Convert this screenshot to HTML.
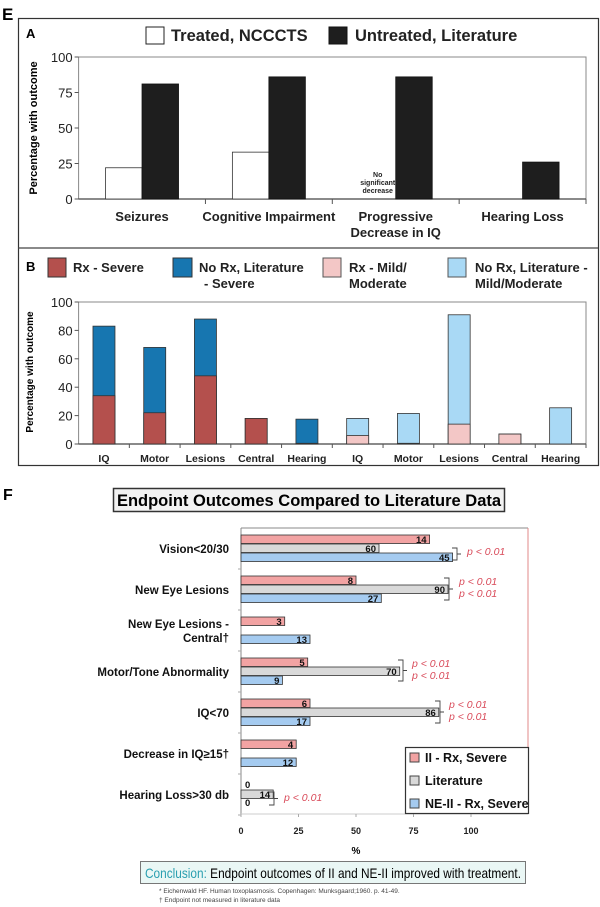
<!DOCTYPE html>
<html><head><meta charset="utf-8"><style>
html,body{margin:0;padding:0;background:#fff;}
svg{display:block;font-family:"Liberation Sans",Arial,sans-serif;}
</style></head><body>
<svg id="fig" width="600" height="907" viewBox="0 0 600 907" xmlns="http://www.w3.org/2000/svg">
<text x="2" y="20" font-size="17" font-weight="bold">E</text>
<rect x="18.5" y="18.5" width="580" height="447" fill="none" stroke="#333" stroke-width="1.2"/>
<line x1="18" y1="248" x2="598" y2="248" stroke="#444" stroke-width="1.2"/>
<text x="26" y="38" font-size="13" font-weight="bold">A</text>
<g>
<rect x="146" y="27" width="18" height="17" fill="#fff" stroke="#222"/>
<text x="171" y="41" font-size="16.5" font-weight="bold" fill="#222">Treated, NCCCTS</text>
<rect x="329" y="27" width="18" height="17" fill="#1e1e1e" stroke="#111"/>
<text x="355" y="41" font-size="16.5" font-weight="bold" fill="#222">Untreated, Literature</text>
</g>
<text transform="translate(37,128) rotate(-90)" text-anchor="middle" font-size="11" font-weight="bold">Percentage with outcome</text>
<g id="gA"></g>
<text x="26" y="271" font-size="13" font-weight="bold">B</text>
<g font-size="13" font-weight="bold" fill="#222">
<rect x="48" y="258" width="18" height="19" fill="#b4504d" stroke="#333"/>
<text x="73" y="272">Rx - Severe</text>
<rect x="173" y="258" width="19" height="19" fill="#1776b0" stroke="#333"/>
<text x="199" y="272">No Rx, Literature<tspan x="204" y="288">- Severe</tspan></text>
<rect x="323" y="258" width="18" height="19" fill="#f3c7c6" stroke="#555"/>
<text x="349" y="272">Rx - Mild/<tspan x="349" y="288">Moderate</tspan></text>
<rect x="448" y="258" width="18" height="19" fill="#a9d9f5" stroke="#555"/>
<text x="475" y="272">No Rx, Literature -<tspan x="475" y="288">Mild/Moderate</tspan></text>
</g>
<text transform="translate(33,372) rotate(-90)" text-anchor="middle" font-size="10" font-weight="bold">Percentage with outcome</text>
<g id="gB"></g>
<text x="3" y="500" font-size="16" font-weight="bold">F</text>
<rect x="113.5" y="488.5" width="391" height="23" fill="#f2f2f2" stroke="#333" stroke-width="1.5"/>
<text x="309" y="506" text-anchor="middle" font-size="16.5" font-weight="bold">Endpoint Outcomes Compared to Literature Data</text>
<g id="gF"></g>
<rect x="140.5" y="861.5" width="385" height="22" fill="#eaf7f5" stroke="#777"/>
<text x="145" y="878" font-size="14" textLength="376" lengthAdjust="spacingAndGlyphs"><tspan fill="#2b9fb0">Conclusion:</tspan> Endpoint outcomes of II and NE-II improved with treatment.</text>
<text x="159" y="893" font-size="6.5" fill="#444">* Eichenwald HF. Human toxoplasmosis. Copenhagen: Munksgaard;1960. p. 41-49.</text>
<text x="159" y="902" font-size="6.5" fill="#444">† Endpoint not measured in literature data</text>
</svg>
<script>
// ---- Panel A data ----
const catsA = ["Seizures", "Cognitive Impairment", "Progressive|Decrease in IQ", "Hearing Loss"];
const treatedA = [22, 33, null, null];
const untreatedA = [81, 86, 86, 26];
const ticksA = [0, 25, 50, 75, 100];
// ---- Panel B data ----
const catsB = ["IQ","Motor","Lesions","Central","Hearing","IQ","Motor","Lesions","Central","Hearing"];
const rxB = [34, 22, 48, 18, 0.5, 6, 0.5, 14, 7, 0];
const totalB = [83, 68, 88, 18, 17.5, 18, 21.5, 91, 7, 25.5];
const groupB = [1,1,1,1,1,0,0,0,0,0];
const ticksB = [0, 20, 40, 60, 80, 100];
// ---- Panel F data ----
const catsF = ["Vision<20/30","New Eye Lesions","New Eye Lesions -|Central†","Motor/Tone Abnormality","IQ<70","Decrease in IQ≥15†","Hearing Loss>30 db"];
const iiF = [82, 50, 19, 29, 30, 24, 0];
const litF = [60, 90, null, 69, 86, null, 14];
const neF = [92, 61, 30, 18, 30, 24, 0];
const iiLbl = ["14","8","3","5","6","4","0"];
const litLbl = ["60","90","","70","86","","14"];
const neLbl = ["45","27","13","9","17","12","0"];
const ticksF = [0, 25, 50, 75, 100];

const NS = "http://www.w3.org/2000/svg";
function mk(parent, tag, attrs, text){
  const e = document.createElementNS(NS, tag);
  for (const k in attrs) e.setAttribute(k, attrs[k]);
  if (text !== undefined) e.textContent = text;
  parent.appendChild(e);
  return e;
}

// Panel A
(function(){
  const g = document.getElementById("gA");
  const x0 = 78.6, x1 = 586, y0 = 199, y1 = 57;
  const yA = v => y0 - (v/100)*(y0-y1);
  const slot = (x1-x0)/catsA.length;
  const bw = 36.5;
  let e = mk(g,"rect",{x:x0,y:y1,width:x1-x0,height:y0-y1,fill:"none",stroke:"#888","stroke-width":1});
   
  ticksA.forEach(t=>{
    let l = mk(g,"line",{x1:x0-4,x2:x0,y1:yA(t),y2:yA(t),stroke:"#555"});
     
    let tx = mk(g,"text",{x:x0-6,y:yA(t)+5,"text-anchor":"end","font-size":13,fill:"#222"},String(t));
     
  });
  mk(g,"line",{x1:x0,x2:x1,y1:y0,y2:y0,stroke:"#444","stroke-width":1.2});
  catsA.forEach((c,i)=>{
    const cx = x0 + slot*(i+0.5);
    let tk = mk(g,"line",{x1:x0+slot*(i+1),x2:x0+slot*(i+1),y1:y0,y2:y0+5,stroke:"#555"});
     
    if (treatedA[i] !== null){
      let r = mk(g,"rect",{x:cx-bw,y:yA(treatedA[i]),width:bw,height:y0-yA(treatedA[i]),fill:"#fff",stroke:"#333","stroke-width":0.8});
       
    }
    let r2 = mk(g,"rect",{x:cx,y:yA(untreatedA[i]),width:bw,height:y0-yA(untreatedA[i]),fill:"#1e1e1e",stroke:"#111","stroke-width":0.8});
     
    const parts = c.split("|");
    parts.forEach((p,k)=>{
      let t = mk(g,"text",{x:cx,y:221+k*16,"text-anchor":"middle","font-size":13,"font-weight":"bold",fill:"#222"},p);
       
    });
  });
  const nsx = x0 + slot*2.5 - 18;
  ["No","significant","decrease"].forEach((w,k)=>{
    let t = mk(g,"text",{x:nsx,y:177+k*8,"text-anchor":"middle","font-size":7,"font-weight":"bold",fill:"#222"},w);
     
  });
})();

// Panel B
(function(){
  const g = document.getElementById("gB");
  const x0 = 78.6, x1 = 586, y0 = 444, y1 = 302;
  const yB = v => y0 - (v/100)*(y0-y1);
  const slot = (x1-x0)/catsB.length;
  const bw = 22;
  let e = mk(g,"rect",{x:x0,y:y1,width:x1-x0,height:y0-y1,fill:"none",stroke:"#888"});
   
  ticksB.forEach(t=>{
    mk(g,"line",{x1:x0-4,x2:x0,y1:yB(t),y2:yB(t),stroke:"#555"});
    let tx = mk(g,"text",{x:x0-6,y:yB(t)+5,"text-anchor":"end","font-size":13,fill:"#222"},String(t));
     
  });
  mk(g,"line",{x1:x0,x2:x1,y1:y0,y2:y0,stroke:"#444","stroke-width":1.2});
  catsB.forEach((c,i)=>{
    const cx = x0 + slot*(i+0.5);
    mk(g,"line",{x1:x0+slot*(i+1),x2:x0+slot*(i+1),y1:y0,y2:y0+4,stroke:"#555"});
    const sev = groupB[i]===1;
    const top = mk(g,"rect",{x:cx-bw/2,y:yB(totalB[i]),width:bw,height:y0-yB(totalB[i]),fill:sev?"#1776b0":"#a9d9f5",stroke:"#333","stroke-width":0.8});
    
    
    if (rxB[i] > 0){
      const low = mk(g,"rect",{x:cx-bw/2,y:yB(rxB[i]),width:bw,height:y0-yB(rxB[i]),fill:sev?"#b4504d":"#f3c7c6",stroke:"#333","stroke-width":0.8});
      
      
    }
    let t = mk(g,"text",{x:cx,y:462,"text-anchor":"middle","font-size":10.5,"font-weight":"bold",fill:"#222"},c);
     
  });
})();

// Panel F
(function(){
  const g = document.getElementById("gF");
  const x0 = 241, x1 = 528, yTop = 528, yBot = 814;
  const xF = v => x0 + v*2.3;
  const step = 41, first = 535, bh = 9;
  mk(g,"line",{x1:x0,x2:x1,y1:yTop,y2:yTop,stroke:"#888"});
  mk(g,"line",{x1:x1,x2:x1,y1:yTop,y2:yBot,stroke:"#e08a8a"});
  mk(g,"line",{x1:x0,x2:x0,y1:yTop,y2:yBot,stroke:"#888"});
  mk(g,"line",{x1:x0,x2:x1,y1:yBot,y2:yBot,stroke:"#ccc"});
  ticksF.forEach(t=>{
    mk(g,"line",{x1:xF(t),x2:xF(t),y1:yBot,y2:yBot+3,stroke:"#aaa"});
    let tx = mk(g,"text",{x:xF(t),y:834,"text-anchor":"middle","font-size":9,"font-weight":"bold",fill:"#222"},String(t));
     
  });
  let pct = mk(g,"text",{x:xF(50),y:854,"text-anchor":"middle","font-size":10,"font-weight":"bold"},"%");
   
  const series = [[iiF,iiLbl,"#f2a3a3","bar-ii-rx-severe"],[litF,litLbl,"#d9d9d9","bar-literature"],[neF,neLbl,"#a5cbf0","bar-ne-ii-rx-severe"]];
  catsF.forEach((c,i)=>{
    const gy = first + i*step;
    mk(g,"line",{x1:x0-3,x2:x0,y1:gy-7+step,y2:gy-7+step,stroke:"#aaa"});
    const lines = c.split("|");
    lines.forEach((p,k)=>{
      let t = mk(g,"text",{x:229,y:gy+18 - (lines.length-1)*7 + k*14,"text-anchor":"end","font-size":11.5,"font-weight":"bold",fill:"#111"},p);
       
    });
    series.forEach((s,j)=>{
      const v = s[0][i];
      if (v === null) return;
      const y = gy + j*bh;
      if (v > 0){
        let r = mk(g,"rect",{x:x0,y:y,width:xF(v)-x0,height:bh-0.5,fill:s[2],stroke:"#333","stroke-width":0.8});
         
        let t = mk(g,"text",{x:xF(v)-3,y:y+8,"text-anchor":"end","font-size":9.5,"font-weight":"bold",fill:"#111"},s[1][i]);
         
      } else {
        let t = mk(g,"text",{x:245,y:y+7,"font-size":9.5,"font-weight":"bold",fill:"#111"},s[1][i]);
         
      }
    });
  });
  const brackets = [
    {x:457, y1:548, y2:560, p:[[467,555]]},
    {x:449, y1:578, y2:600, p:[[459,585],[459,597]]},
    {x:403, y1:660, y2:681, p:[[412,667],[412,679]]},
    {x:440, y1:701, y2:723, p:[[449,708],[449,720]]},
    {x:274, y1:792, y2:805, p:[[284,801]]}
  ];
  brackets.forEach(b=>{
    let pth = mk(g,"path",{d:`M${b.x-5},${b.y1} H${b.x} V${b.y2} H${b.x-5} M${b.x},${(b.y1+b.y2)/2} H${b.x+4}`,fill:"none",stroke:"#444","stroke-width":0.9});
     
    b.p.forEach(q=>{
      let t = mk(g,"text",{x:q[0],y:q[1],"font-size":10.5,"font-style":"italic",fill:"#d94b5a"},"p < 0.01");
       
    });
  });
  const lg = mk(g,"g",{});
   
  mk(lg,"rect",{x:405.5,y:747.5,width:123,height:66,fill:"#fff",stroke:"#333","stroke-width":1.2});
  const lt = [["II - Rx, Severe","#f2a3a3"],["Literature","#d9d9d9"],["NE-II - Rx, Severe","#a5cbf0"]];
  lt.forEach((l,k)=>{
    const y = 753 + k*23;
    mk(lg,"rect",{x:410,y:y,width:9,height:9,fill:l[1],stroke:"#444"});
    let t = mk(lg,"text",{x:425,y:y+9,"font-size":12.5,"font-weight":"bold",fill:"#111"},l[0]);
     
  });
})();
</script>
</body></html>
